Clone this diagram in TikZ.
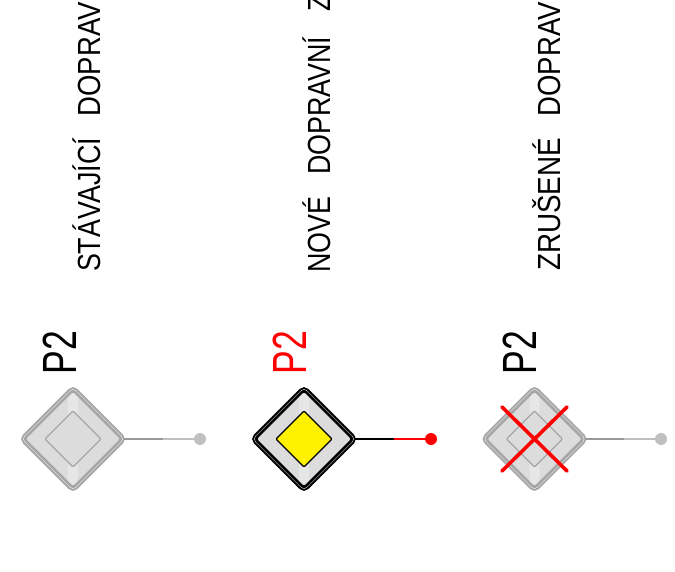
\documentclass[tikz,border=0pt]{standalone}
\usepackage{graphicx}
\usepackage{fontspec}
\setmainfont{Liberation Sans}
\usetikzlibrary{shapes.geometric}
\newcommand{\lbl}[2]{\fontsize{32}{32}\selectfont\scalebox{#1}[1]{#2}}
\newcommand{\cod}[1]{\fontsize{48}{48}\selectfont\scalebox{0.74}[1]{#1}}
\definecolor{gline}{HTML}{A6A6A6}
\definecolor{gfill}{HTML}{DCDCDC}
\definecolor{gstripe}{HTML}{E6E6E6}
\definecolor{gdot}{HTML}{C0C0C0}
\definecolor{gdark}{HTML}{999999}
\tikzset{
  caption/.style={rotate=90,anchor=base west,inner sep=0pt,outer sep=0pt},
  codetext/.style={rotate=90,anchor=base west,inner sep=0pt,outer sep=0pt},
  outerd/.style={diamond,aspect=1,inner sep=0pt,outer sep=0pt,minimum width=106pt,minimum height=106pt,rounded corners=5pt,draw=#1,line width=1.8pt,fill=white},
  midd/.style={diamond,aspect=1,inner sep=0pt,outer sep=0pt,minimum width=98pt,minimum height=98pt,rounded corners=3pt,draw=#1,line width=2.8pt,fill=gfill,
    path picture={\fill[gstripe] ([xshift=-5pt]path picture bounding box.south) rectangle ([xshift=5pt]path picture bounding box.north);}},
  innerd/.style 2 args={diamond,aspect=1,inner sep=0pt,outer sep=0pt,minimum width=56pt,minimum height=56pt,rounded corners=1pt,draw=#1,line width=1.2pt,fill=#2},
  dotnode/.style={circle,inner sep=0pt,outer sep=0pt,minimum size=12pt,fill=#1},
  stem/.style={line width=1.6pt},
  crossline/.style={draw=red,line width=3.6pt,line cap=round}
}
\begin{document}
\begin{tikzpicture}[x=1pt,y=-1pt]
\clip (0,0) rectangle (675,572);
\fill[white] (0,0) rectangle (675,572);
% captions
\node[caption] (t1) at (100.5,272) {\lbl{0.84}{STÁVAJÍCÍ}};
\node[caption] (t1b) at (100.5,116.5) {\lbl{0.86}{DOPRAV}};
\node[caption] (t2) at (330,272.5) {\lbl{0.84}{NOVÉ}};
\node[caption] (t2b) at (330,175) {\lbl{0.84}{DOPRAVNÍ}};
\node[caption] (t2c) at (330,11.5) {\lbl{0.84}{Z}};
\node[caption] (t3) at (560.5,271) {\lbl{0.87}{ZRUŠENÉ}};
\node[caption] (t3b) at (560.5,116.5) {\lbl{0.86}{DOPRAV}};
% codes
\node[codetext] (c1) at (76,374) {\cod{P2}};
\node[codetext,text=red] (c2) at (306,374) {\cod{P2}};
\node[codetext] (c3) at (536.5,374) {\cod{P2}};
% sign 1
\node[dotnode=gdot] (d1) at (200,439) {};
\node[outerd=gline] (a1) at (73,439) {};
\node[midd=gline] (b1) at (73,439) {};
\node[innerd={gline}{gfill}] (e1) at (73,439) {};
\coordinate (m1) at (163,439);
\draw[stem,gdark,shorten <=-3pt] (a1.east) -- (m1);
\draw[stem,gdot] (m1) -- (d1);
% sign 2
\node[dotnode=red] (d2) at (431,439) {};
\node[outerd=black] (a2) at (304,439) {};
\node[midd=black] (b2) at (304,439) {};
\node[innerd={black}{yellow}] (e2) at (304,439) {};
\coordinate (m2) at (394,439);
\draw[stem,black,shorten <=-3pt] (a2.east) -- (m2);
\draw[stem,red] (m2) -- (d2);
% sign 3
\node[dotnode=gdot] (d3) at (661,439) {};
\node[outerd=gline] (a3) at (534.5,439) {};
\node[midd=gline] (b3) at (534.5,439) {};
\node[innerd={gline}{gfill}] (e3) at (534.5,439) {};
\coordinate (m3) at (624,439);
\draw[stem,gdark,shorten <=-3pt] (a3.east) -- (m3);
\draw[stem,gdot] (m3) -- (d3);
\coordinate (x1) at (502,407);
\coordinate (x2) at (567,471);
\coordinate (x3) at (567,407);
\coordinate (x4) at (502,471);
\draw[crossline] (x1) -- (x2);
\draw[crossline] (x3) -- (x4);
\end{tikzpicture}
\end{document}
